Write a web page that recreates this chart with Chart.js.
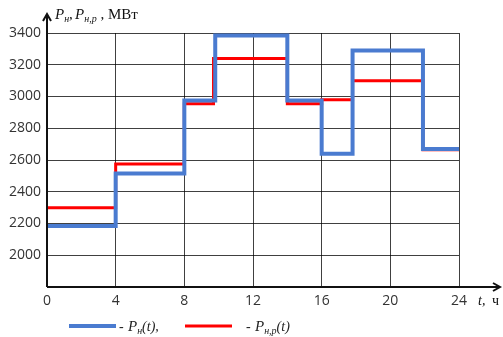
<!DOCTYPE html>
<html>
<head>
<meta charset="utf-8">
<script src="https://cdn.jsdelivr.net/npm/chart.js@4/dist/chart.umd.min.js"></script>
<style>
  html, body { margin: 0; padding: 0; background: #fff; }
  #wrap { width: 503px; height: 337px; }
</style>
</head>
<body>
<div id="wrap"><canvas id="loadChart"></canvas></div>
<script>
// Hours where each level starts (last point closes the day)
const hoursLoad = [0, 4, 8, 9.8, 14, 16, 17.8, 21.9, 24];
const loadMW = [2185, 2515, 2975, 3385, 2975, 2640, 3290, 2670, 2670];

const hoursPlan = [0, 4, 8, 9.7, 14, 16, 17.8, 21.9, 24];
const planMW = [2300, 2575, 2955, 3240, 2955, 2980, 3100, 2665, 2665];

const xTicks = [0, 4, 8, 12, 16, 20, 24];
const yTicks = [2000, 2200, 2400, 2600, 2800, 3000, 3200, 3400];

const BLUE = '#4a7bd0';
const RED = '#ff0000';

// draws italic letter with italic subscript, returns next x
function subText(ctx, x, y, main, sub) {
    ctx.font = 'italic 15px "Liberation Serif"';
    ctx.fillText(main, x, y);
    x += ctx.measureText(main).width;
    ctx.font = 'italic 10px "Liberation Serif"';
    ctx.fillText(sub, x, y + 3);
    return x + ctx.measureText(sub).width;
}

const decorations = {
    id: 'decorations',
    afterDraw(chart) {
        const ctx = chart.ctx;
        const a = chart.chartArea;
        ctx.save();
        ctx.strokeStyle = '#111';
        ctx.fillStyle = '#111';
        ctx.lineWidth = 2;
        // y axis with arrow
        ctx.beginPath();
        ctx.moveTo(a.left, a.bottom);
        ctx.lineTo(a.left, 14);
        ctx.moveTo(a.left - 4, 21);
        ctx.lineTo(a.left, 14);
        ctx.lineTo(a.left + 4, 21);
        // x axis with arrow
        ctx.moveTo(a.left, a.bottom);
        ctx.lineTo(500, a.bottom);
        ctx.moveTo(493, a.bottom - 4);
        ctx.lineTo(500, a.bottom);
        ctx.lineTo(493, a.bottom + 4);
        ctx.stroke();

        // axis titles
        ctx.textBaseline = 'alphabetic';
        ctx.textAlign = 'left';
        let x = subText(ctx, 55, 19, 'P', 'н');
        ctx.font = '15px "Liberation Serif"';
        ctx.fillText(',', x, 19);
        x += 6;
        x = subText(ctx, x, 19, 'P', 'н,р');
        ctx.font = '15px "Liberation Serif"';
        ctx.fillText(' , МВт', x, 19);

        ctx.font = 'italic 14px "Liberation Serif"';
        ctx.fillText('t,', 478, 305);
        ctx.font = '14px "Liberation Serif"';
        ctx.fillText('ч', 492, 305);

        // legend
        ctx.lineWidth = 4;
        ctx.strokeStyle = BLUE;
        ctx.beginPath();
        ctx.moveTo(69, 326);
        ctx.lineTo(116, 326);
        ctx.stroke();
        ctx.lineWidth = 3;
        ctx.strokeStyle = RED;
        ctx.beginPath();
        ctx.moveTo(185, 326);
        ctx.lineTo(232, 326);
        ctx.stroke();

        ctx.fillStyle = '#222';
        ctx.font = '14px "Liberation Serif"';
        ctx.fillText('-', 119, 331);
        x = subText(ctx, 128, 331, 'P', 'н');
        ctx.font = 'italic 14px "Liberation Serif"';
        ctx.fillText('(t),', x, 331);
        ctx.font = '14px "Liberation Serif"';
        ctx.fillText('-', 246, 331);
        x = subText(ctx, 255, 331, 'P', 'н,р');
        ctx.font = 'italic 14px "Liberation Serif"';
        ctx.fillText('(t)', x, 331);
        ctx.restore();
    }
};

new Chart(document.getElementById('loadChart'), {
    type: 'line',
    data: {
        datasets: [
            {
                label: 'Pн(t)',
                data: hoursLoad.map((h, i) => ({ x: h, y: loadMW[i] })),
                borderColor: BLUE,
                borderWidth: 4,
                stepped: 'before',
                pointRadius: 0,
                fill: false
            },
            {
                label: 'Pн,р(t)',
                data: hoursPlan.map((h, i) => ({ x: h, y: planMW[i] })),
                borderColor: RED,
                borderWidth: 3,
                stepped: 'before',
                pointRadius: 0,
                fill: false
            }
        ]
    },
    options: {
        responsive: true,
        maintainAspectRatio: false,
        animation: false,
        layout: { padding: { top: 33, right: 44, bottom: 0, left: 0 } },
        plugins: {
            legend: { display: false },
            tooltip: { enabled: false }
        },
        scales: {
            x: {
                type: 'linear',
                min: 0,
                max: 24,
                afterBuildTicks: axis => { axis.ticks = xTicks.map(v => ({ value: v })); },
                afterFit: axis => { axis.height = 50; },
                grid: { color: 'rgba(0,0,0,0.75)', lineWidth: 1, drawTicks: false },
                border: { display: false },
                ticks: {
                    padding: 6,
                    color: '#333',
                    font: { family: '"Open Sans"', size: 14 }
                }
            },
            y: {
                min: 1800,
                max: 3400,
                afterBuildTicks: axis => { axis.ticks = [1800].concat(yTicks).map(v => ({ value: v })); },
                afterFit: axis => { axis.width = 47; },
                grid: { color: 'rgba(0,0,0,0.75)', lineWidth: 1, drawTicks: false },
                border: { display: false },
                ticks: {
                    padding: 6,
                    color: '#333',
                    font: { family: '"Open Sans"', size: 14 },
                    callback: v => (v === 1800 ? '' : String(v))
                }
            }
        }
    },
    plugins: [decorations]
});
</script>
</body>
</html>
